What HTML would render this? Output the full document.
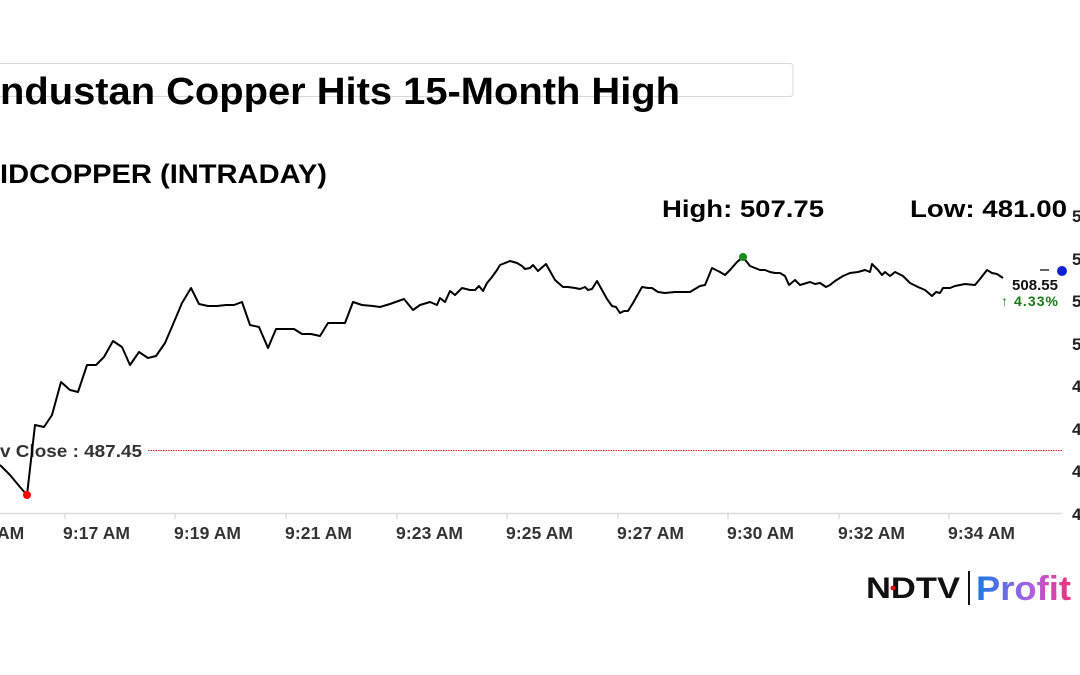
<!DOCTYPE html>
<html><head><meta charset="utf-8"><style>
html,body{margin:0;padding:0;background:#fff;width:1080px;height:675px;overflow:hidden}
text{font-family:"Liberation Sans",sans-serif}
</style></head><body>
<svg width="1080" height="675" xmlns="http://www.w3.org/2000/svg">
<rect x="-10" y="63.5" width="803" height="33" rx="3" fill="none" stroke="#d8d8d8"/>
<text x="0" y="104" font-size="38" font-weight="bold" textLength="680" lengthAdjust="spacingAndGlyphs">ndustan Copper Hits 15-Month High</text>
<text x="0" y="183" font-size="27" font-weight="bold" textLength="327" lengthAdjust="spacingAndGlyphs">IDCOPPER (INTRADAY)</text>
<text x="662" y="217" font-size="24" font-weight="bold" textLength="162" lengthAdjust="spacingAndGlyphs">High: 507.75</text>
<text x="910" y="217" font-size="24" font-weight="bold" textLength="157" lengthAdjust="spacingAndGlyphs">Low: 481.00</text>
<g font-size="17" font-weight="bold" fill="#222">
<text x="1072" y="222">5</text><text x="1072" y="265">5</text><text x="1072" y="307">5</text><text x="1072" y="350">5</text>
<text x="1072" y="392">4</text><text x="1072" y="435">4</text><text x="1072" y="477">4</text><text x="1072" y="520">4</text>
</g>
<line x1="0" y1="513.5" x2="1062" y2="513.5" stroke="#ddd" stroke-width="1.5"/>
<g stroke="#ddd" stroke-width="1.5">
<line x1="65" y1="513" x2="65" y2="519"/><line x1="175" y1="513" x2="175" y2="519"/><line x1="286" y1="513" x2="286" y2="519"/><line x1="397" y1="513" x2="397" y2="519"/><line x1="507" y1="513" x2="507" y2="519"/><line x1="618" y1="513" x2="618" y2="519"/><line x1="728" y1="513" x2="728" y2="519"/><line x1="839" y1="513" x2="839" y2="519"/><line x1="949" y1="513" x2="949" y2="519"/>
</g>
<g font-size="17.5" font-weight="bold" fill="#333">
<text x="-3" y="539">AM</text>
<text x="63" y="539" textLength="67">9:17 AM</text><text x="174" y="539" textLength="67">9:19 AM</text><text x="285" y="539" textLength="67">9:21 AM</text><text x="396" y="539" textLength="67">9:23 AM</text><text x="506" y="539" textLength="67">9:25 AM</text><text x="617" y="539" textLength="67">9:27 AM</text><text x="727" y="539" textLength="67">9:30 AM</text><text x="838" y="539" textLength="67">9:32 AM</text><text x="948" y="539" textLength="67">9:34 AM</text>
</g>
<line x1="148" y1="450.5" x2="1062" y2="450.5" stroke="#e02020" stroke-width="1" stroke-dasharray="1.5,1"/>
<text x="0" y="457" font-size="17.5" font-weight="bold" fill="#333" textLength="142" lengthAdjust="spacingAndGlyphs">v Close : 487.45</text>
<polyline fill="none" stroke="#000" stroke-width="2" stroke-linejoin="round" points="0,465 10,475 20,487 27,495 35,425 44,427 52,415 61,382 70,390 78,392 87,365 96,365 104,357 113,341 122,347 130,365 139,352 148,358 156,356 165,343 174,322 182,303 191,288 199,304 208,306 217,306 226,305 234,305 242,302 250,325 259,327 268,348 276,329 285,329 294,329 302,334 311,334 320,336 328,323 337,323 345,323 353,302 362,305 373,306 380,307 390,304 404,299 413,310 420,305 430,302 437,305 440,298 445,302 450,291 455,295 458,292 462,288 470,290 475,290 479,286 483,291 487,283 492,277 497,270 500,265 510,261 517,263 522,266 525,269 530,268 533,265 538,271 546,264 555,280 563,287 568,287 575,288 580,289 585,287 588,290 592,289 597,281 602,290 607,299 612,306 616,307 620,313 624,311 628,311 633,303 642,287 648,288 652,288 658,292 665,293 675,292 690,292 700,286 705,285 712,268 720,272 725,275 730,270 737,262 743,257 750,266 755,268 760,270 765,270 770,272 775,273 780,273 785,276 789,285 795,280 800,285 810,282 815,284 820,283 826,287 830,285 835,281 843,276 850,273 858,272 865,270 870,272 872,264 878,270 882,275 885,272 890,276 895,272 903,276 910,283 918,287 925,290 932,296 936,292 940,293 943,288 950,288 955,286 965,284 975,285 980,279 987,270 992,273 997,274 1003,278"/>
<line x1="1040" y1="270" x2="1049" y2="270" stroke="#333" stroke-width="1.5"/>
<circle cx="27" cy="495" r="4" fill="#f00"/>
<circle cx="743" cy="257" r="4" fill="#1a8a1a"/>
<circle cx="1062" cy="271" r="5" fill="#1020d0"/>
<text x="1012" y="290" font-size="15" font-weight="bold" fill="#111" textLength="46">508.55</text>
<text x="1001" y="306" font-size="14" font-weight="bold" fill="#1a7a1a" textLength="57">↑ 4.33%</text>
<text x="866" y="598" font-size="30" font-weight="bold" fill="#111" textLength="94" lengthAdjust="spacingAndGlyphs">NDTV</text>
<circle cx="893" cy="588" r="2.5" fill="#e01010"/>
<line x1="969" y1="571" x2="969" y2="605" stroke="#111" stroke-width="2"/>
<defs><linearGradient id="g" x1="0" x2="1"><stop offset="0" stop-color="#1a7ae0"/><stop offset="0.6" stop-color="#b060e0"/><stop offset="1" stop-color="#f0307a"/></linearGradient></defs>
<text x="976" y="600" font-size="34" font-weight="bold" fill="url(#g)" textLength="95" lengthAdjust="spacingAndGlyphs">Profit</text>
</svg>
</body></html>
